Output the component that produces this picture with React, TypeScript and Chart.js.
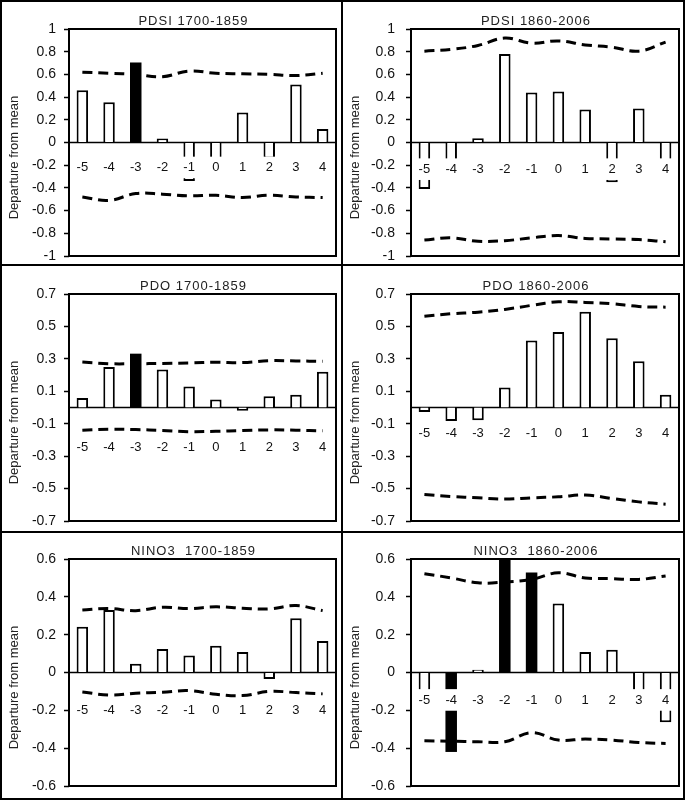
import React, { useEffect, useRef } from 'react';
import { Chart, registerables } from 'chart.js';

Chart.register(...registerables);

const FONT = '"Liberation Sans", Arial, Helvetica, sans-serif';
Chart.defaults.font.family = FONT;

const categories = ['-5', '-4', '-3', '-2', '-1', '0', '1', '2', '3', '4'];

// PDSI 1700-1859
const pdsiEarlyBars = [0.46, 0.355, 0.705, 0.035, -0.34, -0.2, 0.265, -0.14, 0.51, 0.118];
const pdsiEarlyUpper = [0.62, 0.61, 0.6, 0.58, 0.63, 0.61, 0.605, 0.6, 0.59, 0.61];
const pdsiEarlyLower = [-0.48, -0.51, -0.45, -0.455, -0.47, -0.465, -0.485, -0.465, -0.48, -0.485];
const pdsiEarlySig = ['-3'];

// PDSI 1860-2006
const pdsiLateBars = [-0.41, -0.2, 0.038, 0.78, 0.44, 0.45, 0.29, -0.35, 0.3, -0.28];
const pdsiLateUpper = [0.805, 0.82, 0.855, 0.92, 0.875, 0.895, 0.86, 0.84, 0.805, 0.885];
const pdsiLateLower = [-0.86, -0.84, -0.87, -0.865, -0.84, -0.82, -0.845, -0.85, -0.855, -0.875];
const pdsiLateSig: string[] = [];

// PDO 1700-1859
const pdoEarlyBars = [0.058, 0.25, 0.332, 0.235, 0.13, 0.05, -0.02, 0.07, 0.078, 0.22];
const pdoEarlyUpper = [0.28, 0.27, 0.27, 0.272, 0.275, 0.279, 0.277, 0.289, 0.287, 0.285];
const pdoEarlyLower = [-0.14, -0.134, -0.136, -0.142, -0.149, -0.147, -0.142, -0.138, -0.14, -0.144];
const pdoEarlySig = ['-3'];

// PDO 1860-2006
const pdoLateBars = [-0.027, -0.083, -0.078, 0.124, 0.413, 0.466, 0.59, 0.427, 0.285, 0.078];
const pdoLateUpper = [0.563, 0.578, 0.588, 0.605, 0.63, 0.652, 0.648, 0.64, 0.623, 0.619];
const pdoLateLower = [-0.537, -0.549, -0.557, -0.565, -0.557, -0.551, -0.54, -0.561, -0.582, -0.596];
const pdoLateSig: string[] = [];

// NINO3 1700-1859
const ninoEarlyBars = [0.242, 0.33, 0.046, 0.124, 0.09, 0.142, 0.108, -0.034, 0.287, 0.166];
const ninoEarlyUpper = [0.33, 0.338, 0.327, 0.345, 0.338, 0.347, 0.34, 0.336, 0.354, 0.327];
const ninoEarlyLower = [-0.103, -0.119, -0.11, -0.104, -0.096, -0.115, -0.122, -0.1, -0.106, -0.113];
const ninoEarlySig: string[] = [];

// NINO3 1860-2006
const ninoLateBars = [-0.12, -0.42, 0.015, 0.6, 0.528, 0.365, 0.108, 0.12, -0.145, -0.263];
const ninoLateUpper = [0.522, 0.5, 0.474, 0.478, 0.492, 0.527, 0.5, 0.496, 0.492, 0.51];
const ninoLateLower = [-0.361, -0.363, -0.366, -0.366, -0.318, -0.357, -0.352, -0.357, -0.37, -0.375];
const ninoLateSig = ['-4', '-2', '-1'];

const titles = ['PDSI 1700-1859', 'PDSI 1860-2006', 'PDO 1700-1859', 'PDO 1860-2006', 'NINO3  1700-1859', 'NINO3  1860-2006'];
const yAxisTitle = 'Departure from mean';

type PanelProps = {
  title: string;
  bars: number[];
  upper: number[];
  lower: number[];
  sig: string[];
  yMin: number;
  yMax: number;
  labelY: number;
  left: number;
  top: number;
  width: number;
  height: number;
  plotLeft: number;
  padTop: number;
  padBottom: number;
  padRight: number;
  tickPad: number;
};

function Panel(p: PanelProps) {
  const ref = useRef<HTMLCanvasElement>(null);
  useEffect(() => {
    const canvas = ref.current;
    if (!canvas) return;
    const fills = categories.map((c) => (p.sig.includes(c) ? '#000' : '#fff'));
    const borders = categories.map((c) => (p.sig.includes(c) ? 0 : 2));
    const decor = {
      id: 'decor',
      beforeDatasetsDraw(chart: any) {
        const { ctx, chartArea } = chart;
        const y0 = chart.scales.y.getPixelForValue(0);
        ctx.save();
        ctx.strokeStyle = '#000';
        ctx.lineWidth = 1.5;
        ctx.beginPath();
        ctx.moveTo(chartArea.left, y0);
        ctx.lineTo(chartArea.right, y0);
        ctx.stroke();
        ctx.restore();
      },
      afterDraw(chart: any) {
        const { ctx, chartArea } = chart;
        ctx.save();
        ctx.strokeStyle = '#000';
        ctx.lineWidth = 2;
        ctx.strokeRect(chartArea.left, chartArea.top, chartArea.right - chartArea.left, chartArea.bottom - chartArea.top);
        // title
        ctx.fillStyle = '#222';
        ctx.font = `13px ${FONT}`;
        (ctx as any).letterSpacing = '1px';
        ctx.textAlign = 'center';
        ctx.textBaseline = 'middle';
        ctx.fillText(p.title, (chartArea.left + chartArea.right) / 2 - 9, chartArea.top - 8);
        (ctx as any).letterSpacing = '0px';
        // y axis title
        ctx.translate(12, (chartArea.top + chartArea.bottom) / 2 + 15);
        ctx.rotate(-Math.PI / 2);
        ctx.font = `13px ${FONT}`;
        ctx.fillText(yAxisTitle, 0, 0);
        ctx.restore();
      },
    };
    const lineDs = (data: number[]) =>
      ({
        type: 'line',
        data,
        borderColor: '#000',
        borderWidth: 3,
        borderDash: [10, 6],
        borderCapStyle: 'butt',
        pointRadius: 0,
        tension: 0.4,
        fill: false,
      }) as any;
    const chart = new Chart(canvas, {
      type: 'bar',
      data: {
        labels: categories,
        datasets: [
          lineDs(p.upper),
          lineDs(p.lower),
          {
            type: 'bar',
            data: p.bars,
            backgroundColor: fills,
            borderColor: '#000',
            borderWidth: borders,
            barPercentage: 0.43,
            categoryPercentage: 1,
          } as any,
        ],
      },
      options: {
        responsive: false,
        animation: false,
        events: [],
        layout: { padding: { top: p.padTop, bottom: p.padBottom, left: 0, right: p.padRight } },
        plugins: { legend: { display: false }, tooltip: { enabled: false }, title: { display: false } },
        scales: {
          x: {
            type: 'category',
            offset: true,
            position: { y: p.labelY } as any,
            grid: { display: false, drawTicks: false },
            border: { display: false },
            afterFit: (s: any) => {
              s.paddingLeft = 0;
              s.paddingRight = 0;
              s.paddingTop = 0;
              s.paddingBottom = 0;
            },
            ticks: {
              z: 1,
              padding: -7.8,
              font: { size: 13 },
              color: '#111',
              showLabelBackdrop: true,
              backdropColor: '#fff',
              backdropPadding: { top: 3, bottom: 3, left: 3, right: 3 },
              maxRotation: 0,
              autoSkip: false,
            } as any,
          },
          y: {
            min: p.yMin,
            max: p.yMax,
            afterFit: (s: any) => {
              s.width = p.plotLeft;
              s.paddingTop = 0;
              s.paddingBottom = 0;
            },
            ticks: {
              stepSize: 0.2,
              font: { size: 14 },
              color: '#111',
              padding: p.tickPad,
              callback: (v: any) => String(Number(Number(v).toFixed(1))),
            },
            grid: { drawOnChartArea: false, tickLength: 5, tickColor: '#000', tickWidth: 1.5 } as any,
            border: { display: false },
          },
        },
      } as any,
      plugins: [decor],
    });
    return () => chart.destroy();
  }, []);
  return (
    <canvas
      ref={ref}
      width={p.width}
      height={p.height}
      style={{ position: 'absolute', left: p.left, top: p.top, width: p.width, height: p.height }}
    />
  );
}

const colLeft = [2, 343];
const colWidth = [339, 340];
const colPlotLeft = [67, 68];
const colPadRight = [5, 4];
const colTickPad = [8, 11];
const rowTop = [2, 266, 533];
const rowHeight = [262, 265, 265];
const rowPadTop = [27, 28, 26];
const rowPadBottom = [8, 10, 12];

const panels = [
  { bars: pdsiEarlyBars, upper: pdsiEarlyUpper, lower: pdsiEarlyLower, sig: pdsiEarlySig, yMin: -1, yMax: 1, labelY: -0.22 },
  { bars: pdsiLateBars, upper: pdsiLateUpper, lower: pdsiLateLower, sig: pdsiLateSig, yMin: -1, yMax: 1, labelY: -0.235 },
  { bars: pdoEarlyBars, upper: pdoEarlyUpper, lower: pdoEarlyLower, sig: pdoEarlySig, yMin: -0.7, yMax: 0.7, labelY: -0.248 },
  { bars: pdoLateBars, upper: pdoLateUpper, lower: pdoLateLower, sig: pdoLateSig, yMin: -0.7, yMax: 0.7, labelY: -0.159 },
  { bars: ninoEarlyBars, upper: ninoEarlyUpper, lower: ninoEarlyLower, sig: ninoEarlySig, yMin: -0.6, yMax: 0.6, labelY: -0.198 },
  { bars: ninoLateBars, upper: ninoLateUpper, lower: ninoLateLower, sig: ninoLateSig, yMin: -0.6, yMax: 0.6, labelY: -0.145 },
];

export default function App() {
  return (
    <div style={{ position: 'absolute', left: 0, top: 0, width: 685, height: 800, background: '#fff' }}>
      {panels.map((pn, i) => {
        const c = i % 2;
        const r = Math.floor(i / 2);
        return (
          <Panel
            key={i}
            title={titles[i]}
            {...pn}
            left={colLeft[c]}
            top={rowTop[r]}
            width={colWidth[c]}
            height={rowHeight[r]}
            plotLeft={colPlotLeft[c]}
            padTop={rowPadTop[r]}
            padBottom={rowPadBottom[r]}
            padRight={colPadRight[c]}
            tickPad={colTickPad[c]}
          />
        );
      })}
      <div style={{ position: 'absolute', left: 0, top: 0, width: 685, height: 800, border: '2px solid #000', boxSizing: 'border-box', pointerEvents: 'none' }} />
      <div style={{ position: 'absolute', left: 341, top: 0, width: 2, height: 800, background: '#000' }} />
      <div style={{ position: 'absolute', left: 0, top: 264, width: 685, height: 2, background: '#000' }} />
      <div style={{ position: 'absolute', left: 0, top: 531, width: 685, height: 2, background: '#000' }} />
    </div>
  );
}
